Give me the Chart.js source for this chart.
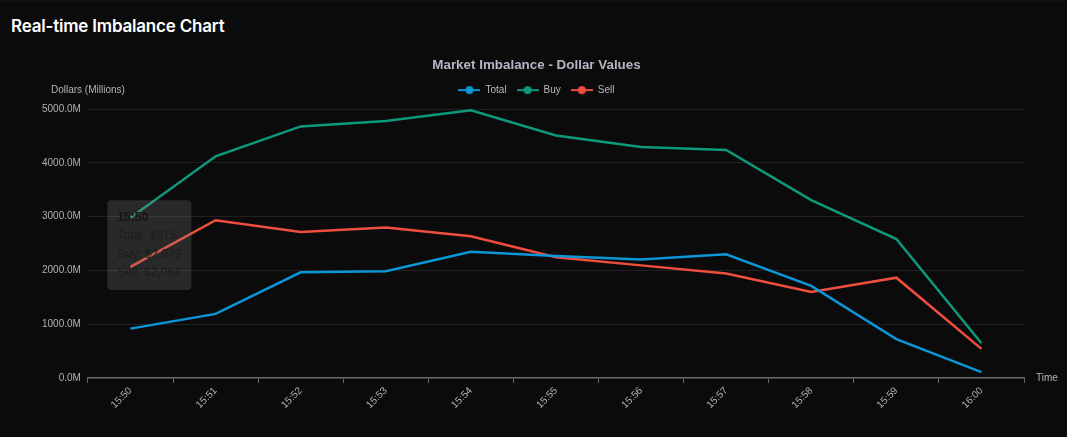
<!DOCTYPE html>
<html>
<head>
<meta charset="utf-8">
<title>Real-time Imbalance Chart</title>
<script src="https://cdn.jsdelivr.net/npm/chart.js@4.4.1/dist/chart.umd.min.js"></script>
<style>
  html, body { margin: 0; padding: 0; background: #0b0b0b; }
  body { width: 1067px; height: 437px; overflow: hidden; border-top: 2px solid #160e0e; box-sizing: border-box; }
  h2 {
    margin: 0; position: absolute; left: 11px; top: 16px;
    font-family: Inter, "Open Sans", sans-serif; font-size: 17px; font-weight: 600;
    color: #ffffff; letter-spacing: -0.2px;
  }
  #wrap { position: absolute; left: 0; top: 45px; width: 1067px; height: 380px; }
</style>
</head>
<body>
<h2>Real-time Imbalance Chart</h2>
<div id="wrap"><canvas id="imbChart"></canvas></div>
<script>
'use strict';

// values in millions of dollars
const times = ['15:50', '15:51', '15:52', '15:53', '15:54', '15:55', '15:56', '15:57', '15:58', '15:59', '16:00'];
const totalVals = [915, 1190, 1963, 1982, 2345, 2268, 2203, 2298, 1710, 720, 106];
const buyVals = [2979, 4122, 4677, 4778, 4977, 4510, 4295, 4240, 3308, 2583, 644];
const sellVals = [2064, 2932, 2714, 2796, 2632, 2242, 2092, 1942, 1598, 1863, 538];
const yTicks = [0, 1000, 2000, 3000, 4000, 5000];

const seriesNames = ['Total', 'Buy', 'Sell'];
const seriesColors = ['#0b96d8', '#0d9a7c', '#ef4e3e'];

const yTitle = 'Dollars (Millions)';
const xTitle = 'Time';

// legend marker: short line with a dot in the middle
function legendIcon(color){
  const c = document.createElement('canvas');
  c.width = 22;
  c.height = 10;
  const g = c.getContext('2d');
  g.strokeStyle = color;
  g.lineWidth = 2;
  g.beginPath();
  g.moveTo(0, 5);
  g.lineTo(22, 5);
  g.stroke();
  g.fillStyle = color;
  g.beginPath();
  g.arc(11, 5, 4, 0, Math.PI * 2);
  g.fill();
  return c;
}
const icons = seriesColors.map(legendIcon);

const axisTitles = {
  id: 'axisTitles',
  afterDatasetsDraw(chart){
    const ctx = chart.ctx;
    const area = chart.chartArea;
    ctx.save();
    ctx.font = '10px "Helvetica Neue", Helvetica, Arial, sans-serif';
    ctx.fillStyle = '#b4b4b4';
    ctx.textBaseline = 'middle';
    ctx.textAlign = 'center';
    ctx.fillText(yTitle, area.left, area.top - 19);
    ctx.textAlign = 'left';
    ctx.fillText(xTitle, area.right + 12, area.bottom);
    ctx.restore();
  }
};

// a bit more room under the legend, and title/legend nudged right
const headerTweak = {
  id: 'headerTweak',
  beforeInit(chart){
    const origFit = chart.legend.fit;
    chart.legend.fit = function(){
      origFit.bind(chart.legend)();
      this.height += 4;
    };
  },
  afterLayout(chart){
    [chart.titleBlock, chart.legend].forEach(b => {
      if(!b) return;
      b.left += 7;
      b.right += 7;
    });
  }
};

Chart.Tooltip.positioners.besideFirst = function(items){
  if(!items.length) return false;
  let sumY = 0;
  for(let i=0; i<items.length; i++){
    sumY += items[i].element.y;
  }
  return { x: items[0].element.x + 19, y: sumY / items.length - 26 };
};

const fmt = new Intl.NumberFormat('en-US');
const dataSets = [totalVals, buyVals, sellVals];

const ctx = document.getElementById('imbChart').getContext('2d');
const chart = new Chart(ctx, {
  type: 'line',
  data: {
    labels: times,
    datasets: seriesNames.map((name, i) => ({
      label: name,
      data: dataSets[i],
      borderColor: seriesColors[i],
      backgroundColor: seriesColors[i],
      borderWidth: 2.5,
      pointRadius: 0,
      pointHoverRadius: 0,
      tension: 0,
      fill: false
    }))
  },
  options: {
    responsive: true,
    maintainAspectRatio: false,
    animation: false,
    layout: { padding: { left: 35, right: 43, top: 0, bottom: 12 } },
    plugins: {
      title: {
        display: true,
        text: 'Market Imbalance - Dollar Values',
        color: '#b6b6c4',
        font: { size: 13.4, weight: 'bold' },
        padding: { top: 12, bottom: 2 }
      },
      legend: {
        labels: {
          color: '#b8b8b8',
          font: { size: 10 },
          usePointStyle: true,
          pointStyleWidth: 22,
          boxHeight: 10,
          padding: 10,
          generateLabels(c){
            const items = Chart.defaults.plugins.legend.labels.generateLabels(c);
            items.forEach(it => { it.pointStyle = icons[it.datasetIndex]; });
            return items;
          }
        }
      },
      tooltip: {
        mode: 'index',
        intersect: false,
        position: 'besideFirst',
        xAlign: 'center',
        yAlign: 'center',
        caretSize: 0,
        displayColors: false,
        backgroundColor: 'rgba(140,140,140,0.24)',
        titleColor: '#171717',
        bodyColor: '#1d1d1d',
        titleFont: { size: 12, weight: 'bold' },
        bodyFont: { size: 12 },
        titleMarginBottom: 4,
        bodySpacing: 4,
        padding: 10,
        cornerRadius: 4,
        callbacks: {
          label: (item) => `${item.dataset.label}: $${fmt.format(item.parsed.y)}`
        }
      }
    },
    scales: {
      x: {
        offset: true,
        grid: {
          display: true,
          drawOnChartArea: false,
          drawTicks: true,
          tickLength: 5,
          color: '#6a6a6a',
          offset: true
        },
        border: { display: true, color: '#6a6a6a', width: 1.5 },
        ticks: {
          color: '#b0b0b0',
          font: { size: 10 },
          minRotation: 45,
          maxRotation: 45,
          autoSkip: false,
          padding: 2
        }
      },
      y: {
        min: yTicks[0],
        max: yTicks[yTicks.length - 1],
        afterBuildTicks(axis){
          axis.ticks = yTicks.map(v => ({ value: v }));
        },
        grid: { color: '#202020', drawTicks: false },
        border: { display: false },
        ticks: {
          color: '#b0b0b0',
          font: { size: 10 },
          padding: 7,
          callback: (v) => Number(v).toFixed(1) + 'M'
        }
      }
    }
  },
  plugins: [axisTitles, headerTweak]
});

const meta = chart.getDatasetMeta(0);
chart.tooltip.setActiveElements(
  [0, 1, 2].map(d => ({ datasetIndex: d, index: 0 })),
  { x: meta.data[0].x, y: meta.data[0].y }
);
chart.update();
</script>
</body>
</html>
